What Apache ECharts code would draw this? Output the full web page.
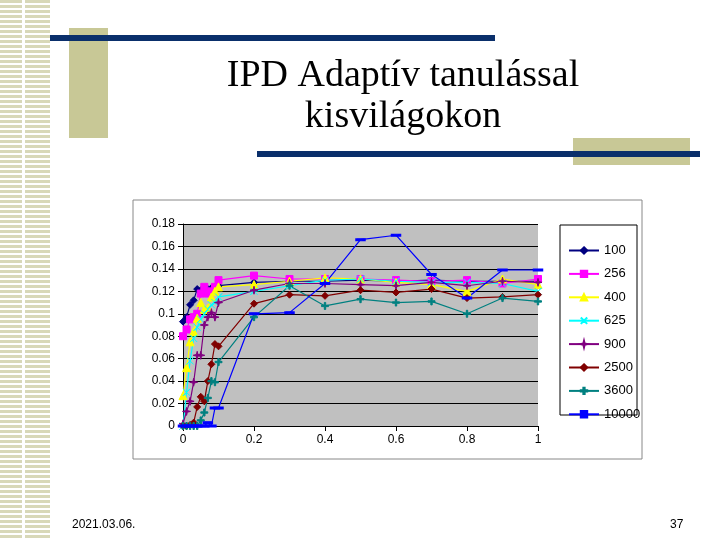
<!DOCTYPE html>
<html><head><meta charset="utf-8">
<script src="https://cdn.jsdelivr.net/npm/echarts@6/dist/echarts.min.js"></script>
<style>
html,body{margin:0;padding:0;background:#fff;}
#wrap{position:relative;width:720px;height:540px;overflow:hidden;background:#fff;}
#stripe{position:absolute;left:0;top:0;width:50px;height:540px;background:repeating-linear-gradient(180deg,#d8d8b8 0px,#d8d8b8 3px,#fff 3px,#fff 5px);}
#stripe2{position:absolute;left:22px;top:0;width:3px;height:540px;background:#fff;}
#c{position:absolute;left:0;top:0;width:720px;height:540px;}
</style></head><body>
<div id="wrap"><div id="stripe"></div><div id="stripe2"></div><div id="c"></div></div>
<script>
const xs=[0,0.01,0.02,0.03,0.04,0.05,0.06,0.07,0.08,0.09,0.1,0.2,0.3,0.4,0.5,0.6,0.7,0.8,0.9,1];
const names=['100','256','400','625','900','2500','3600','10000'];
const s100=[0.093,0.097,0.108,0.112,0.122,0.121,0.12,0.122,0.123,0.124,0.125,0.128,0.129,0.129,0.130,0.129,0.130,0.129,0.129,0.129];
const s256=[0.080,0.086,0.095,0.097,0.100,0.118,0.124,0.118,0.120,0.124,0.130,0.134,0.131,0.131,0.131,0.130,0.129,0.130,0.127,0.131];
const s400=[0.027,0.052,0.075,0.084,0.096,0.110,0.104,0.105,0.115,0.120,0.124,0.126,0.129,0.132,0.131,0.128,0.126,0.120,0.131,0.126];
const s625=[0.000,0.030,0.058,0.078,0.088,0.095,0.100,0.104,0.108,0.110,0.115,0.120,0.125,0.130,0.131,0.129,0.128,0.128,0.127,0.120];
const s900=[0.002,0.013,0.022,0.039,0.063,0.063,0.090,0.097,0.101,0.097,0.110,0.121,0.127,0.127,0.126,0.125,0.128,0.125,0.129,0.128];
const s2500=[0,0,0.001,0.003,0.017,0.026,0.022,0.040,0.055,0.073,0.071,0.109,0.117,0.116,0.121,0.119,0.122,0.114,0.115,0.117];
const s3600=[0,0,0,0,0,0.005,0.012,0.025,0.040,0.039,0.057,0.097,0.125,0.107,0.113,0.110,0.111,0.100,0.114,0.111];
const s10000=[0,0,0,0,0,0,0,0.003,0,0.016,0.016,0.100,0.101,0.127,0.166,0.170,0.135,0.114,0.139,0.139];
const yTicks=[0,0.02,0.04,0.06,0.08,0.1,0.12,0.14,0.16,0.18];
const xTicks=[0,0.2,0.4,0.6,0.8,1];
const data=[s100,s256,s400,s625,s900,s2500,s3600,s10000];
const colors=['#000080','#ff00ff','#ffff00','#00ffff','#800080','#800000','#008080','#0000ff'];
const syms=['diamond','rect','triangle','path://M0,0L10,10M10,0L0,10L5,5Z','path://M5,0L6,4L10,5L6,6L5,10L4,6L0,5L4,4Z','diamond','path://M4,0H6V4H10V6H6V10H4V6H0V4H4Z','rect'];
const symSize=[7,7,8,7,8,7,7,[7,2]];
const ch=echarts.init(document.getElementById('c'));
ch.setOption({
 animation:false,
 title:{text:'IPD Adaptív tanulással\nkisvilágokon',left:398,top:51,textAlign:'center',
  textStyle:{fontFamily:'Liberation Serif',fontSize:38,fontWeight:'normal',color:'#000',lineHeight:41}},
 graphic:[
  {type:'rect',shape:{x:69,y:28,width:39,height:110},style:{fill:'#c8c896'}},
  {type:'rect',shape:{x:50,y:35,width:445,height:6},style:{fill:'#0a2f6b'}},
  {type:'rect',shape:{x:573,y:138,width:117,height:27},style:{fill:'#c8c896'}},
  {type:'rect',shape:{x:257,y:151,width:443,height:6},style:{fill:'#0a2f6b'}},
  {type:'rect',shape:{x:133,y:200,width:509,height:259},style:{fill:'#fff',stroke:'#888',lineWidth:1},z:-1},
  {type:'rect',shape:{x:560,y:225,width:77,height:190},style:{fill:'#fff',stroke:'#000',lineWidth:1},z:-1},
  {type:'text',left:72,top:519,style:{text:'2021.03.06.',font:'12px Liberation Sans',fill:'#000'}},
  {type:'text',left:670,top:519,style:{text:'37',font:'12px Liberation Sans',fill:'#000'}}
 ],
 grid:{left:183,top:224,width:355,height:202,backgroundColor:'#c0c0c0',show:true,borderWidth:0},
 legend:{orient:'vertical',left:563,top:239,itemGap:10.4,itemWidth:30,itemHeight:8,
  textStyle:{fontFamily:'Liberation Sans',fontSize:13,color:'#000'},data:names},
 xAxis:{type:'value',min:0,max:1,interval:0.2,
  axisLine:{lineStyle:{color:'#000'}},axisTick:{show:true,lineStyle:{color:'#000'}},splitLine:{show:false},
  axisLabel:{fontFamily:'Liberation Sans',fontSize:12,color:'#000',formatter:v=>xTicks.includes(+v.toFixed(1))?String(+v.toFixed(1)):''}},
 yAxis:{type:'value',min:0,max:0.18,interval:0.02,
  axisLine:{show:true,lineStyle:{color:'#000'}},axisTick:{show:true,lineStyle:{color:'#000'}},
  splitLine:{lineStyle:{color:'#000',width:1}},
  axisLabel:{fontFamily:'Liberation Sans',fontSize:12,color:'#000',formatter:v=>String(+v.toFixed(2))}},
 series:names.map((n,i)=>({name:n,type:'line',data:xs.map((x,j)=>[x,data[i][j]]),
  symbol:syms[i],symbolSize:symSize[i],showSymbol:true,
  lineStyle:{color:colors[i],width:1.2},itemStyle:{color:colors[i],borderColor:colors[i],borderWidth:1}}))
});
</script></body></html>
